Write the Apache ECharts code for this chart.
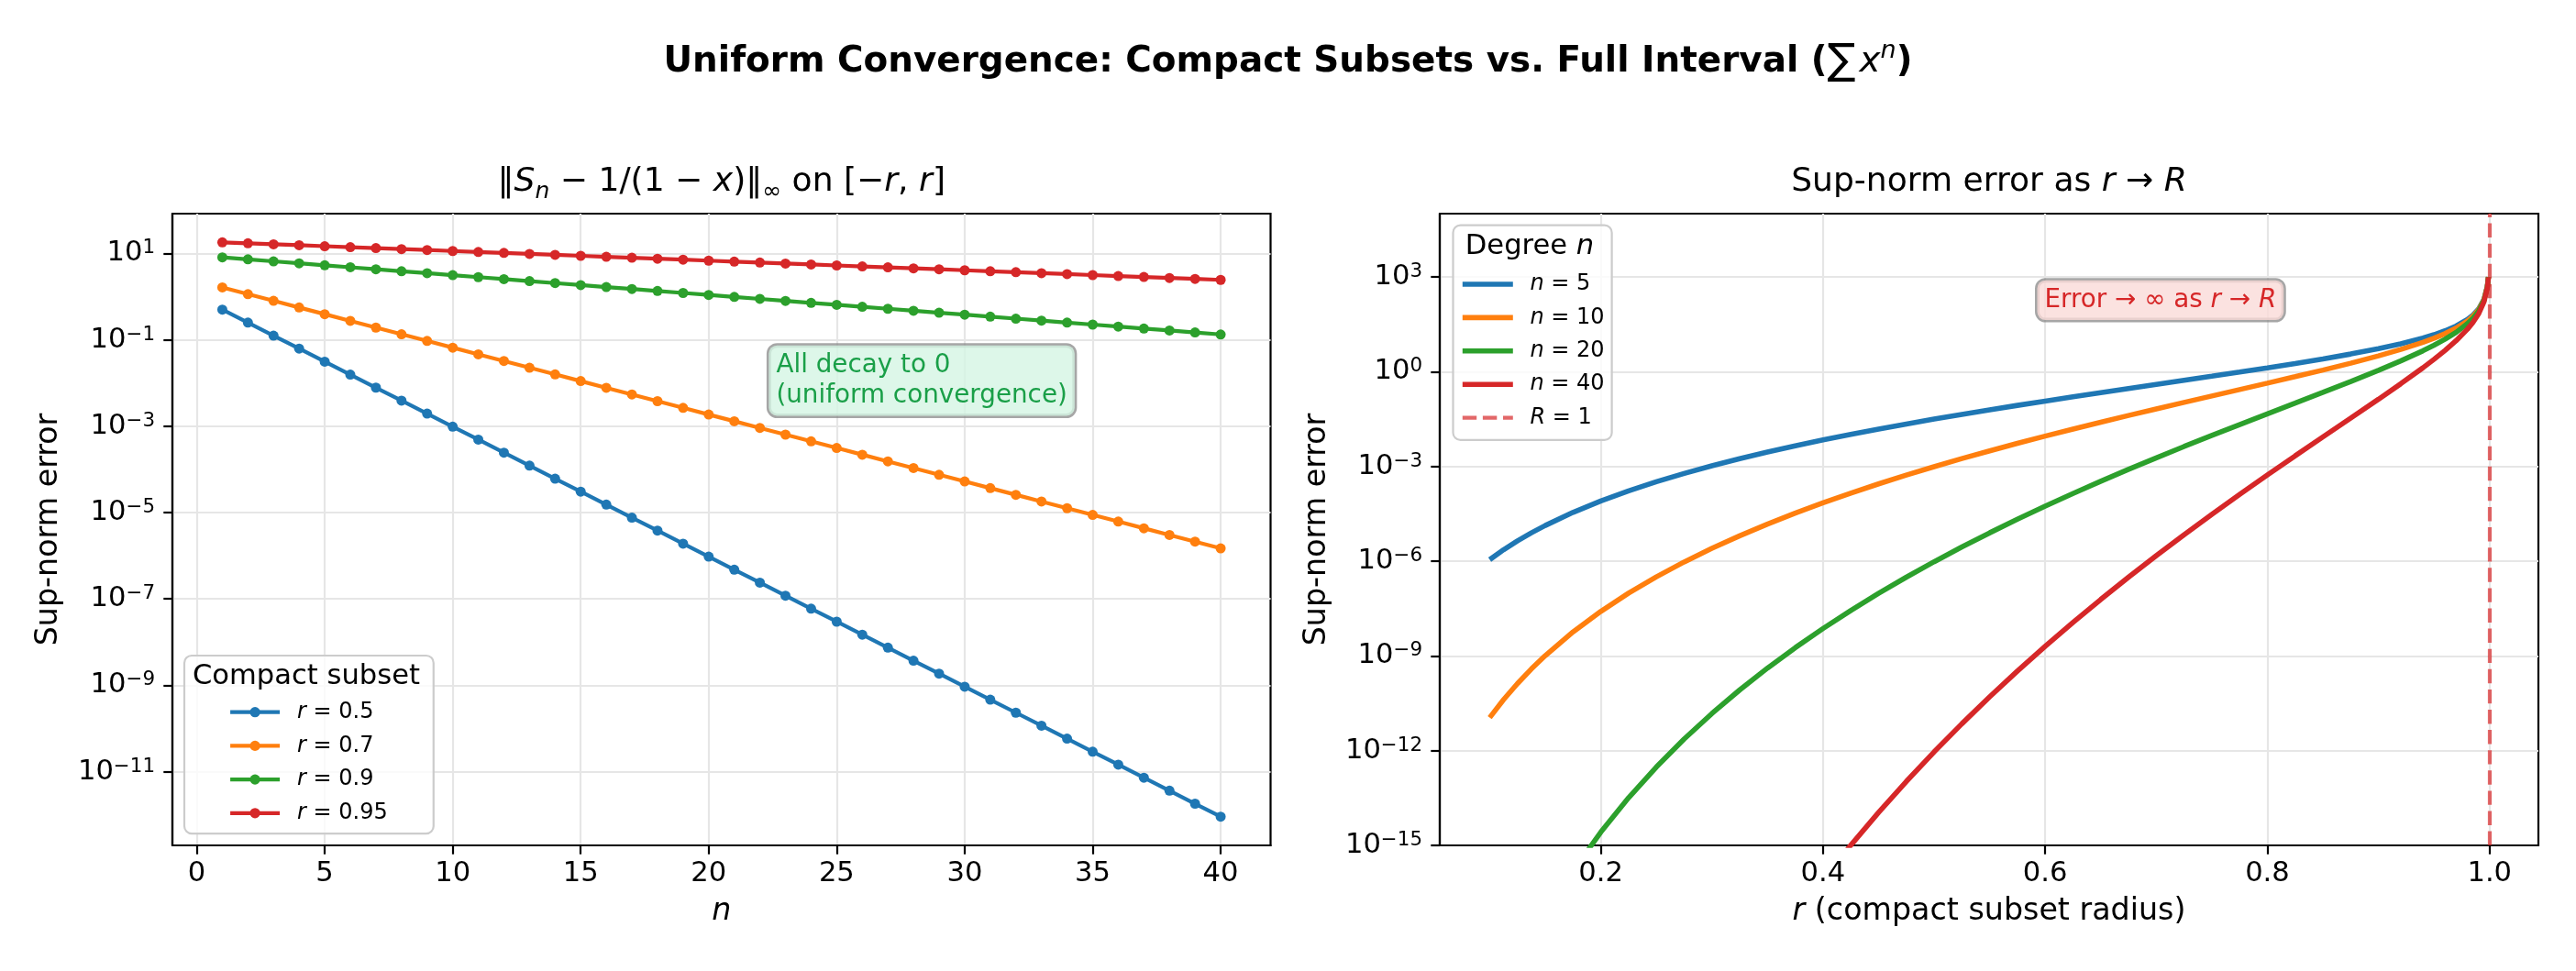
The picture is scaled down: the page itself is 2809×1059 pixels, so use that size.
<!DOCTYPE html>
<html><head><meta charset="utf-8">
<script src="https://cdn.jsdelivr.net/npm/echarts@6/dist/echarts.min.js"></script>
<style>html,body{margin:0;padding:0;background:#fff}#c{width:2809px;height:1059px}</style>
</head><body><div id="c"></div>
<script>
// ---------- Left panel data: sup-norm error vs n ----------
const nValues = [1,2,3,4,5,6,7,8,9,10,11,12,13,14,15,16,17,18,19,20,21,22,23,24,25,26,27,28,29,30,31,32,33,34,35,36,37,38,39,40];
const errR050 = [0.5,0.25,0.125,0.0625,0.03125,0.015625,7.813e-3,3.906e-3,1.953e-3,9.766e-4,4.883e-4,2.441e-4,1.221e-4,6.104e-5,3.052e-5,1.526e-5,7.629e-6,3.815e-6,1.907e-6,9.537e-7,4.768e-7,2.384e-7,1.192e-7,5.960e-8,2.980e-8,1.490e-8,7.451e-9,3.725e-9,1.863e-9,9.313e-10,4.657e-10,2.328e-10,1.164e-10,5.821e-11,2.910e-11,1.455e-11,7.276e-12,3.638e-12,1.819e-12,9.095e-13];
const errR070 = [1.633,1.143,0.8003,0.5602,0.3922,0.2745,0.1922,0.1345,0.09416,0.06591,0.04614,0.03230,0.02261,0.01583,0.01108,7.754e-3,5.428e-3,3.800e-3,2.660e-3,1.862e-3,1.303e-3,9.123e-4,6.386e-4,4.470e-4,3.129e-4,2.190e-4,1.533e-4,1.073e-4,7.513e-5,5.259e-5,3.681e-5,2.577e-5,1.804e-5,1.263e-5,8.839e-6,6.187e-6,4.331e-6,3.032e-6,2.122e-6,1.486e-6];
const errR090 = [8.1,7.29,6.561,5.905,5.314,4.783,4.305,3.874,3.487,3.138,2.824,2.542,2.288,2.059,1.853,1.668,1.501,1.351,1.216,1.094,0.9848,0.8863,0.7977,0.7179,0.6461,0.5815,0.5234,0.4710,0.4239,0.3815,0.3434,0.3090,0.2781,0.2503,0.2253,0.2028,0.1825,0.1642,0.1478,0.1330];
const errR095 = [18.05,17.15,16.29,15.48,14.70,13.97,13.27,12.60,11.97,11.38,10.81,10.27,9.754,9.266,8.803,8.362,7.944,7.547,7.170,6.811,6.471,6.147,5.840,5.548,5.270,5.007,4.757,4.519,4.293,4.078,3.874,3.681,3.496,3.322,3.156,2.998,2.848,2.706,2.570,2.442];
const leftNames = ['r = 0.5','r = 0.7','r = 0.9','r = 0.95'];
const nTicks = [0,5,10,15,20,25,30,35,40];
const leftYTicks = [1e-11,1e-9,1e-7,1e-5,1e-3,1e-1,1e1];

// ---------- Right panel data: sup-norm error vs r ----------
const rGrid = [0.1,0.1125,0.125,0.1375,0.15,0.175,0.2,0.225,0.25,0.275,0.3,0.325,0.35,0.375,0.4,0.425,0.45,0.475,0.5,0.525,0.55,0.575,0.6,0.625,0.65,0.675,0.7,0.725,0.75,0.775,0.8,0.825,0.85,0.875,0.9,0.92,0.94,0.95,0.96,0.97,0.98,0.985,0.99,0.995,0.998,0.999];
const errN5 = [1.111e-6,2.284e-6,4.360e-6,7.841e-6,1.340e-5,3.482e-5,8.000e-5,1.674e-4,3.255e-4,5.966e-4,1.041e-3,1.746e-3,2.828e-3,4.449e-3,6.827e-3,1.025e-2,1.510e-2,2.188e-2,3.125e-2,4.409e-2,6.150e-2,8.505e-2,0.1166,0.1589,0.2155,0.2910,0.3922,0.5280,0.7119,0.9630,1.311,1.802,2.514,3.592,5.314,7.580,11.50,14.70,19.57,27.77,44.29,60.88,94.15,194.1,494.0,994.0];
const errN10 = [1.111e-11,4.118e-11,1.330e-10,3.854e-10,1.018e-9,5.714e-9,2.560e-8,9.653e-8,3.179e-7,9.382e-7,2.531e-6,6.329e-6,1.485e-5,3.299e-5,6.991e-5,1.421e-4,2.786e-4,5.290e-4,9.766e-4,1.759e-3,3.096e-3,5.346e-3,9.070e-3,1.516e-2,2.500e-2,4.078e-2,6.591e-2,0.1058,0.1689,0.2692,0.4295,0.6885,1.116,1.842,3.138,4.996,8.442,11.38,15.96,23.84,40.04,56.46,89.53,189.3,489.1,989.0];
const errN20 = [1.111e-21,1.336e-20,1.239e-19,9.308e-19,5.868e-18,1.539e-16,2.621e-15,3.210e-14,3.032e-13,2.321e-12,1.494e-11,8.322e-11,4.100e-10,1.815e-9,7.330e-9,2.733e-8,9.485e-8,3.093e-7,9.537e-7,2.797e-6,7.841e-6,2.112e-5,5.484e-5,1.379e-4,3.365e-4,8.007e-4,1.862e-3,4.245e-3,9.513e-3,2.104e-2,4.612e-2,0.1006,0.2197,0.4845,1.094,2.171,4.547,6.811,10.61,17.58,32.71,48.54,80.97,180.0,479.4,979.2];
const errN40 = [1.111e-41,1.410e-39,1.075e-37,5.430e-36,1.951e-34,1.117e-31,2.749e-29,3.549e-27,2.757e-25,1.419e-23,5.210e-22,1.438e-20,3.118e-19,5.488e-18,8.060e-17,1.010e-15,1.100e-14,1.057e-13,9.095e-13,7.077e-12,5.030e-11,3.297e-10,2.005e-9,1.141e-8,6.101e-8,3.086e-7,1.486e-6,6.833e-6,3.017e-5,1.286e-4,5.317e-4,2.145e-3,8.515e-3,3.354e-2,0.1330,0.4096,1.319,2.442,4.690,9.562,21.84,35.88,66.22,162.8,460.6,959.8];
const rightNames = ['n = 5','n = 10','n = 20','n = 40'];
const radiusR = [1];
const rTicks = [0.2,0.4,0.6,0.8,1.0];
const rightYTicks = [1e-15,1e-12,1e-9,1e-6,1e-3,1,1e3];

// ---------- styling ----------
const FONT = 'DejaVu Sans';
const COLORS = ['#1f77b4','#ff7f0e','#2ca02c','#d62728'];
const GRID_COLOR = '#e6e6e6';

function supLabel(v) {
  const e = Math.round(Math.log10(v));
  const s = e < 0 ? '\u2212' + (-e) : String(e);
  return '{b|10}{s|' + s + '}';
}
const tickRich = {
  b: {fontFamily: FONT, fontSize: 30.6, lineHeight: 32, color: '#000', verticalAlign: 'middle'},
  s: {fontFamily: FONT, fontSize: 21.4, lineHeight: 22, color: '#000', verticalAlign: 'top'}
};
const labelBase = {fontFamily: FONT, fontSize: 30.6, color: '#000'};

function mathLegendFmt(name) {
  return '{i|' + name.charAt(0) + '}{t|' + name.slice(1) + '}';
}
const legendRich = {
  i: {fontFamily: FONT, fontSize: 24, fontStyle: 'italic', color: '#000'},
  t: {fontFamily: FONT, fontSize: 24, color: '#000'}
};

function xAxisCfg(gi, min, max, ticks, fmt, name) {
  return {
    gridIndex: gi, type: 'value', min: min, max: max,
    axisLine: {show: true, onZero: false, lineStyle: {color: '#000', width: 2.2}},
    axisTick: {show: true, length: 9.7, lineStyle: {color: '#000', width: 2.2}, customValues: ticks},
    axisLabel: Object.assign({customValues: ticks, margin: 16, formatter: fmt}, labelBase),
    splitLine: {show: true, lineStyle: {color: GRID_COLOR, width: 2.2}},
    name: name.text, nameLocation: 'middle', nameGap: 56,
    nameTextStyle: {fontFamily: FONT, fontSize: 33.3, color: '#000', rich: name.rich}
  };
}
function yAxisCfg(gi, min, max, ticks, gap) {
  return {
    gridIndex: gi, type: 'log', logBase: 10, min: min, max: max,
    axisLine: {show: true, onZero: false, lineStyle: {color: '#000', width: 2.2}},
    axisTick: {show: true, length: 9.7, lineStyle: {color: '#000', width: 2.2}, customValues: ticks},
    axisLabel: {customValues: ticks, margin: 19, formatter: supLabel, rich: tickRich, align: 'right'},
    splitLine: {show: true, lineStyle: {color: GRID_COLOR, width: 2.2}},
    minorTick: {show: false}, minorSplitLine: {show: false},
    name: 'Sup-norm error', nameLocation: 'middle', nameGap: gap,
    nameTextStyle: {fontFamily: FONT, fontSize: 33.3, color: '#000'}
  };
}

const leftSeriesData = [errR050, errR070, errR090, errR095];
const rightSeriesData = [errN5, errN10, errN20, errN40];

const series = [];
leftSeriesData.forEach((arr, k) => {
  series.push({
    type: 'line', name: leftNames[k], xAxisIndex: 0, yAxisIndex: 0,
    data: nValues.map((n, i) => [n, arr[i]]),
    symbol: 'circle', symbolSize: 11, showSymbol: true,
    lineStyle: {color: COLORS[k], width: 4.2}, itemStyle: {color: COLORS[k]},
    z: 2 + k, clip: true, emphasis: {disabled: true}
  });
});
rightSeriesData.forEach((arr, k) => {
  series.push({
    type: 'line', name: rightNames[k], xAxisIndex: 1, yAxisIndex: 1,
    data: rGrid.map((r, i) => [r, arr[i]]),
    symbol: 'none', showSymbol: false,
    lineStyle: {color: COLORS[k], width: 5.6}, itemStyle: {color: COLORS[k]},
    z: 2 + k, clip: true, emphasis: {disabled: true}
  });
});
const dashStyle = {color: 'rgba(214,39,40,0.7)', width: 4.2, type: [15.4, 6.7]};
series.push({
  type: 'line', name: 'R = 1', xAxisIndex: 1, yAxisIndex: 1, data: [],
  symbol: 'none', lineStyle: dashStyle, itemStyle: {color: 'rgba(214,39,40,0.7)'}, z: 8,
  markLine: {symbol: ['none', 'none'], silent: true, animation: false, label: {show: false},
    lineStyle: dashStyle, emphasis: {disabled: true}, data: [{xAxis: radiusR[0]}]}
});

const legendBox = {backgroundColor: 'rgba(255,255,255,0.8)', borderColor: '#cccccc', borderWidth: 2.2, borderRadius: 8};

const option = {
  animation: false,
  backgroundColor: '#ffffff',
  textStyle: {fontFamily: FONT},
  grid: [
    {left: 188, top: 233, width: 1197.5, height: 689, show: true, borderColor: '#000', borderWidth: 2.2, backgroundColor: 'transparent', containLabel: false, outerBoundsMode: 'none'},
    {left: 1570, top: 233, width: 1198, height: 689, show: true, borderColor: '#000', borderWidth: 2.2, backgroundColor: 'transparent', containLabel: false, outerBoundsMode: 'none'}
  ],
  xAxis: [
    xAxisCfg(0, -0.95, 41.95, nTicks, v => String(v), {text: '{i|n}', rich: {i: {fontFamily: FONT, fontSize: 33.3, fontStyle: 'italic', color: '#000'}}}),
    xAxisCfg(1, 0.05505, 1.04395, rTicks, v => v.toFixed(1), {text: '{i|r}{t| (compact subset radius)}', rich: {i: {fontFamily: FONT, fontSize: 33.3, fontStyle: 'italic', color: '#000'}, t: {fontFamily: FONT, fontSize: 33.3, color: '#000'}}})
  ],
  yAxis: [
    yAxisCfg(0, 1.968e-13, 83.43, leftYTicks, 118),
    yAxisCfg(1, 1e-15, 1e5, rightYTicks, 117)
  ],
  legend: [
    Object.assign({
      data: leftNames, orient: 'vertical', left: 201, top: 715,
      itemWidth: 54, itemHeight: 14, itemGap: 11.7, padding: [49.2, 50, 9.8, 48],
      lineStyle: {width: 'inherit'},
      formatter: mathLegendFmt, textStyle: {fontFamily: FONT, fontSize: 24, lineHeight: 25, color: '#000', rich: legendRich, padding: [0, 0, 0, 14]},
      selectedMode: false
    }, legendBox),
    Object.assign({
      data: rightNames.concat(['R = 1']), orient: 'vertical', left: 1584.5, top: 245.7,
      itemWidth: 55, itemHeight: 14, itemGap: 11.4, padding: [51.8, 8, 11.8, 7.5],
      lineStyle: {width: 'inherit'}, itemStyle: {opacity: 0},
      formatter: mathLegendFmt, textStyle: {fontFamily: FONT, fontSize: 24, lineHeight: 25, color: '#000', rich: legendRich, padding: [0, 0, 0, 13.7]},
      selectedMode: false
    }, legendBox)
  ],
  graphic: {
    elements: [
      {type: 'text', z: 100, x: 1404.5, y: 68, style: {
        text: '{b|Uniform Convergence: Compact Subsets vs. Full Interval (}{sum|\u2211}{x|x}{sup|n}{b|)}',
        align: 'center', verticalAlign: 'middle',
        rich: {
          b: {fontFamily: FONT, fontSize: 38.9, fontWeight: 'bold', lineHeight: 52, verticalAlign: 'middle', fill: '#000'},
          sum: {fontFamily: FONT, fontSize: 46, lineHeight: 52, verticalAlign: 'middle', fill: '#000', padding: [0, 4, 0, 0]},
          x: {fontFamily: FONT, fontSize: 38.9, fontStyle: 'italic', lineHeight: 52, verticalAlign: 'middle', fill: '#000'},
          sup: {fontFamily: FONT, fontSize: 27, fontStyle: 'italic', lineHeight: 30, verticalAlign: 'top', fill: '#000'}
        }}},
      {type: 'text', z: 100, x: 786.75, y: 199, style: {
        text: '{n|\u2016}{i|S}{sub|n}{n| \u2212 1/(1 \u2212 }{i|x}{n|)\u2016}{sub|\u221e}{n| on [\u2212}{i|r}{n|, }{i|r}{n|]}',
        align: 'center', verticalAlign: 'middle',
        rich: {
          n: {fontFamily: FONT, fontSize: 36.1, lineHeight: 46, verticalAlign: 'middle', fill: '#000'},
          i: {fontFamily: FONT, fontSize: 36.1, fontStyle: 'italic', lineHeight: 46, verticalAlign: 'middle', fill: '#000'},
          sub: {fontFamily: FONT, fontSize: 25, fontStyle: 'italic', lineHeight: 28, verticalAlign: 'bottom', fill: '#000'}
        }}},
      {type: 'text', z: 100, x: 2169, y: 199, style: {
        text: '{n|Sup-norm error as }{i|r}{n| \u2192 }{i|R}',
        align: 'center', verticalAlign: 'middle',
        rich: {
          n: {fontFamily: FONT, fontSize: 36.1, lineHeight: 46, verticalAlign: 'middle', fill: '#000'},
          i: {fontFamily: FONT, fontSize: 36.1, fontStyle: 'italic', lineHeight: 46, verticalAlign: 'middle', fill: '#000'}
        }}},
      {type: 'text', z: 100, x: 334, y: 738, style: {
        text: 'Compact subset', fontFamily: FONT, fontSize: 30.6, fill: '#000', align: 'center', verticalAlign: 'middle'}},
      {type: 'text', z: 100, x: 1668, y: 269, style: {
        text: '{n|Degree }{i|n}', align: 'center', verticalAlign: 'middle',
        rich: {n: {fontFamily: FONT, fontSize: 30.6, fill: '#000'}, i: {fontFamily: FONT, fontSize: 30.6, fontStyle: 'italic', fill: '#000'}}}},
      {type: 'text', z: 100, x: 838.4, y: 376.7, style: {
        text: 'All decay to 0\n(uniform convergence)', fontFamily: FONT, fontSize: 27.8, lineHeight: 33.4,
        fill: '#1a9f48', align: 'left', verticalAlign: 'top',
        backgroundColor: 'rgba(213,245,227,0.8)', borderColor: 'rgba(128,128,128,0.7)', borderWidth: 2.5, borderRadius: 9,
        padding: [5, 8, 5, 8]}},
      {type: 'text', z: 100, x: 2221.5, y: 305.7, style: {
        text: '{n|Error \u2192 \u221e as }{i|r}{n| \u2192 }{i|R}', align: 'left', verticalAlign: 'top',
        rich: {n: {fontFamily: FONT, fontSize: 27.8, lineHeight: 33.4, fill: '#d62728'}, i: {fontFamily: FONT, fontSize: 27.8, lineHeight: 33.4, fontStyle: 'italic', fill: '#d62728'}},
        backgroundColor: 'rgba(250,219,216,0.8)', borderColor: 'rgba(128,128,128,0.7)', borderWidth: 2.5, borderRadius: 9,
        padding: [5, 8, 5, 8]}}
    ]
  },
  series: series
};

const chart = echarts.init(document.getElementById('c'), null, {renderer: 'canvas', devicePixelRatio: 1});
chart.setOption(option);
</script>
</body></html>
